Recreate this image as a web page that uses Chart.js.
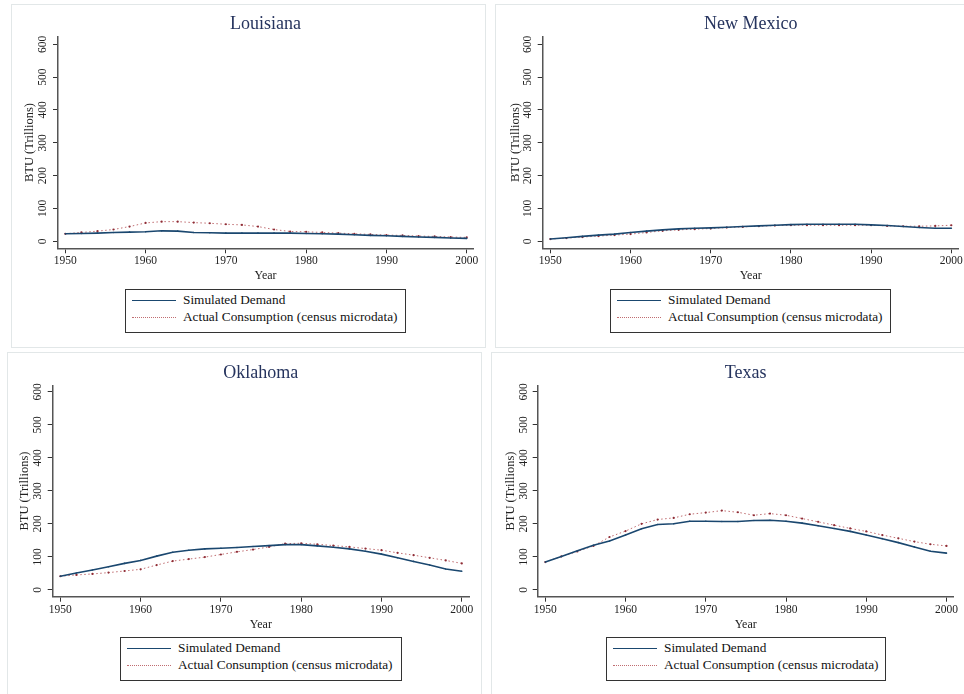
<!DOCTYPE html>
<html>
<head>
<meta charset="utf-8">
<script src="https://cdn.jsdelivr.net/npm/chart.js@4.4.1/dist/chart.umd.min.js"></script>
<style>
  html, body { margin: 0; padding: 0; background: #fff; }
  body { width: 964px; height: 694px; position: relative; overflow: hidden; font-family: "Liberation Serif", serif; }
  .frame { position: absolute; border: 1px solid #e2e7e8; box-sizing: border-box; }
  canvas { position: absolute; }
  .legend { position: absolute; border: 1.5px solid #333; box-sizing: border-box; background: #fff; }
  .legend .row { position: absolute; left: 0; right: 0; height: 16px; }
  .legend .swatch { position: absolute; left: 6px; width: 44px; top: 8px; }
  .legend .label { position: absolute; left: 57px; top: 0; font-size: 13.3px; line-height: 16px; color: #111; white-space: nowrap; }
</style>
</head>
<body>
<script>
// years shared by every panel
const years = [1950, 1952, 1954, 1956, 1958, 1960, 1962, 1964, 1966, 1968, 1970, 1972, 1974,
               1976, 1978, 1980, 1982, 1984, 1986, 1988, 1990, 1992, 1994, 1996, 1998, 2000];
const yTicks = [0, 100, 200, 300, 400, 500, 600];
const xTicks = [1950, 1960, 1970, 1980, 1990, 2000];

const seriesNames = ['Simulated Demand', 'Actual Consumption (census microdata)'];

const laSimulated = [23, 24, 25, 27, 28, 29, 32, 31, 27, 26, 25, 25, 25, 25, 25, 24, 23, 22, 20, 18, 17, 15, 13, 12, 10, 9];
const laActual    = [23, 27, 31, 36, 45, 56, 60, 60, 57, 55, 52, 50, 45, 36, 30, 29, 27, 25, 23, 21, 19, 18, 16, 15, 13, 12];

const nmSimulated = [7, 11, 15, 19, 22, 27, 31, 35, 38, 40, 41, 43, 45, 47, 49, 51, 52, 52, 52, 52, 50, 48, 45, 42, 40, 40];
const nmActual    = [7, 10, 13, 16, 19, 22, 27, 32, 35, 37, 39, 42, 44, 46, 48, 49, 49, 49, 49, 49, 49, 47, 46, 46, 47, 49];

const okSimulated = [41, 51, 60, 70, 80, 89, 102, 114, 120, 124, 126, 128, 131, 134, 137, 137, 133, 129, 124, 117, 108, 97, 86, 75, 63, 56];
const okActual    = [41, 45, 48, 52, 57, 62, 75, 87, 93, 99, 107, 115, 122, 130, 140, 141, 138, 134, 130, 125, 120, 112, 105, 97, 89, 80];

const txSimulated = [84, 101, 118, 135, 148, 166, 185, 198, 200, 208, 208, 207, 207, 210, 211, 208, 202, 194, 186, 177, 166, 155, 143, 130, 117, 111];
const txActual    = [84, 101, 116, 133, 160, 178, 200, 213, 218, 229, 234, 240, 235, 226, 231, 226, 216, 206, 196, 186, 177, 166, 156, 146, 138, 133];

const BLUE = '#1a476f';
const RED = 'rgba(176, 72, 78, 0.8)';
const RED_DOT = '#8e2c35';

// panel layout (page pixels)
const panels = [
  { title: 'Louisiana', sim: laSimulated, act: laActual,
    frame: [11, 4, 486, 348], axis: [58, 36.7, 473, 249.3], y: [-21.2, 623], x: [1949.09, 2000.78],
    yTitleX: 30, yLabelX: 43, titleY: 24, legend: [125, 289, 406, 333] },
  { title: 'New Mexico', sim: nmSimulated, act: nmActual,
    frame: [495, 4, 980, 348], axis: [542.7, 36.7, 958.7, 249.3], y: [-21.2, 623], x: [1949.05, 2000.92],
    yTitleX: 515.3, yLabelX: 527.7, titleY: 24, legend: [610, 289, 891, 333] },
  { title: 'Oklahoma', sim: okSimulated, act: okActual,
    frame: [7, 352, 482, 710], axis: [52.7, 385.3, 469, 597.7], y: [-21, 620], x: [1949.05, 2000.9],
    yTitleX: 25, yLabelX: 38.3, titleY: 373, legend: [120, 637, 402, 681] },
  { title: 'Texas', sim: txSimulated, act: txActual,
    frame: [491, 352, 980, 710], axis: [537.7, 385.3, 953.7, 597.7], y: [-21, 620], x: [1949.05, 2000.9],
    yTitleX: 510.3, yLabelX: 523.7, titleY: 373, legend: [606, 637, 886, 681] }
];

// panel title + rotated y tick labels
const panelText = {
  id: 'panelText',
  afterDraw(chart, args, opts) {
    const { ctx, chartArea } = chart;
    const y = chart.scales.y;
    ctx.save();
    ctx.textAlign = 'center';
    ctx.textBaseline = 'middle';
    ctx.fillStyle = '#26345e';
    ctx.font = '18px "Liberation Serif"';
    ctx.fillText(opts.title, (chartArea.left + chartArea.right) / 2, opts.titleY);
    ctx.fillStyle = '#222';
    ctx.font = '11.5px "Liberation Serif"';
    y.ticks.forEach(t => {
      ctx.save();
      ctx.translate(opts.labelX, y.getPixelForValue(t.value));
      ctx.rotate(-Math.PI / 2);
      ctx.fillText(String(t.value), 0, 0);
      ctx.restore();
    });
    ctx.restore();
  }
};

function makeLegend(box) {
  const el = document.createElement('div');
  el.className = 'legend';
  el.style.left = box[0] + 'px';
  el.style.top = box[1] + 'px';
  el.style.width = (box[2] - box[0]) + 'px';
  el.style.height = (box[3] - box[1]) + 'px';
  el.innerHTML = `
    <div class="row" style="top:2px"><div class="swatch" style="border-top:1.5px solid ${BLUE}"></div><div class="label">${seriesNames[0]}</div></div>
    <div class="row" style="top:19px"><div class="swatch" style="border-top:1px dotted ${RED}"></div><div class="label">${seriesNames[1]}</div></div>`;
  document.body.appendChild(el);
}

function makePanel(p) {
  const fr = document.createElement('div');
  fr.className = 'frame';
  fr.style.left = p.frame[0] + 'px';
  fr.style.top = p.frame[1] + 'px';
  fr.style.width = (p.frame[2] - p.frame[0]) + 'px';
  fr.style.height = (p.frame[3] - p.frame[1]) + 'px';
  document.body.appendChild(fr);

  const [aL, aT, aR, aB] = p.axis;
  const cx = p.frame[0] + 2, cy = p.frame[1] + 2;
  const cw = Math.round(aR + 12 - cx), ch = Math.round(aB + 40 - cy);
  const canvas = document.createElement('canvas');
  canvas.width = cw; canvas.height = ch;
  canvas.style.left = cx + 'px';
  canvas.style.top = cy + 'px';
  canvas.style.width = cw + 'px';
  canvas.style.height = ch + 'px';
  document.body.appendChild(canvas);

  const tickLen = 5, tickPad = 1;
  const xScaleH = tickLen + tickPad + 11.5 * 1.2 + 12 * 1.2;
  const padL = 4;
  const yTitleLH = 12.5 * 1.2;
  const yPadTop = p.yTitleX - cx - padL - yTitleLH / 2;
  const yPadBottom = aL - cx - padL - tickLen - yTitleLH - yPadTop;

  new Chart(canvas, {
    type: 'line',
    data: {
      datasets: [
        {
          label: seriesNames[0],
          data: years.map((yr, i) => ({ x: yr, y: p.sim[i] })),
          borderColor: BLUE,
          borderWidth: 1.6,
          pointRadius: 0.8,
          pointBackgroundColor: BLUE,
          pointBorderWidth: 0,
          tension: 0
        },
        {
          label: seriesNames[1],
          data: years.map((yr, i) => ({ x: yr, y: p.act[i] })),
          borderColor: RED,
          borderWidth: 1,
          borderDash: [1.5, 2.5],
          pointRadius: 1.1,
          pointBackgroundColor: RED_DOT,
          pointBorderWidth: 0,
          tension: 0
        }
      ]
    },
    options: {
      responsive: false,
      animation: false,
      devicePixelRatio: 1,
      layout: {
        padding: { left: padL, top: aT - cy, right: cx + cw - aR, bottom: cy + ch - aB - xScaleH }
      },
      plugins: {
        legend: { display: false },
        tooltip: { enabled: false },
        title: { display: false },
        panelText: { title: p.title, titleY: p.titleY - cy, labelX: p.yLabelX - cx }
      },
      scales: {
        x: {
          type: 'linear',
          min: p.x[0],
          max: p.x[1],
          afterBuildTicks: s => { s.ticks = xTicks.map(v => ({ value: v })); },
          ticks: {
            padding: tickPad,
            color: '#222',
            font: { family: 'Liberation Serif', size: 11.5, lineHeight: 1.2 },
            callback: v => String(v),
            maxRotation: 0
          },
          grid: { drawOnChartArea: false, drawTicks: true, tickLength: tickLen, color: '#333' },
          border: { display: true, color: '#555', width: 1.5 },
          title: {
            display: true, text: 'Year', color: '#222',
            font: { family: 'Liberation Serif', size: 12, lineHeight: 1.2 },
            padding: { top: 0, bottom: 0 }
          }
        },
        y: {
          min: p.y[0],
          max: p.y[1],
          afterBuildTicks: s => { s.ticks = yTicks.map(v => ({ value: v })); },
          ticks: { display: false },
          grid: { drawOnChartArea: false, drawTicks: true, tickLength: tickLen, color: '#333' },
          border: { display: true, color: '#555', width: 1.5 },
          title: {
            display: true, text: 'BTU (Trillions)', color: '#222',
            font: { family: 'Liberation Serif', size: 12.5, lineHeight: 1.2 },
            padding: { top: yPadTop, bottom: yPadBottom }
          }
        }
      }
    },
    plugins: [panelText]
  });

  makeLegend(p.legend);
}

panels.forEach(makePanel);
</script>
</body>
</html>
